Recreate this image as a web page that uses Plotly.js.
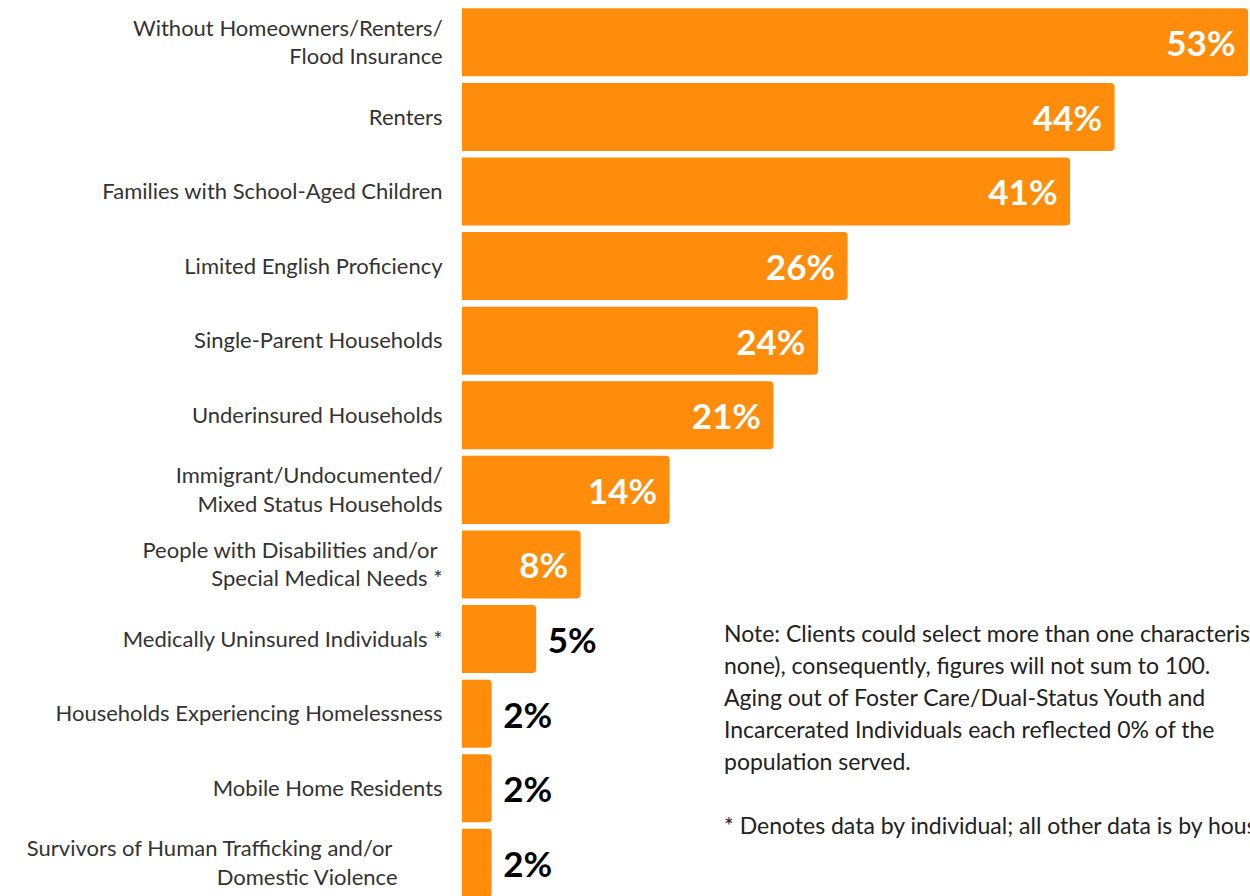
<!DOCTYPE html>
<html>
<head>
<meta charset="utf-8">
<script src="https://cdn.plot.ly/plotly-3.0.1.min.js"></script>
<style>html,body{margin:0;padding:0;background:#fff;overflow:hidden}#chart{width:1250px;height:896px}</style>
</head>
<body>
<div id="chart"></div>
<script>
const NB = '\u00A0';
const categories = [
  'Without Homeowners/Renters/<br>Flood Insurance',
  'Renters',
  'Families with School-Aged Children',
  'Limited English Proficiency',
  'Single-Parent Households',
  'Underinsured Households',
  'Immigrant/Undocumented/<br>Mixed Status Households',
  'People with Disabilities and/or' + NB + '<br>Special Medical Needs *',
  'Medically Uninsured Individuals *',
  'Households Experiencing Homelessness',
  'Mobile Home Residents',
  'Survivors of Human Trafficking and/or' + NB.repeat(9) + '<br>Domestic Violence' + NB.repeat(8)
];
const values = [53, 44, 41, 26, 24, 21, 14, 8, 5, 2, 2, 2];
const noteLines = [
  'Note: Clients could select more than one characteristic (or',
  'none), consequently, figures will not sum to 100.',
  'Aging out of Foster Care/Dual-Status Youth and',
  'Incarcerated Individuals each reflected 0% of the',
  'population served.',
  '',
  '* Denotes data by individual; all other data is by household.'
];

const inside = values.map(v => v >= 8);
const labels = values.map((v, i) => inside[i] ? v + '%' + NB : NB + v + '%');

const FONT = 'Lato, "Open Sans", sans-serif';
const H = 896, T = 5, PH = 891, L = 462, PW = 788;

const trace = {
  type: 'bar',
  orientation: 'h',
  x: values,
  y: categories,
  text: labels,
  texttemplate: '%{text}',
  textposition: inside.map(b => b ? 'inside' : 'outside'),
  insidetextanchor: 'end',
  insidetextfont: {color: '#ffffff', size: 35, family: FONT, weight: 'bold'},
  outsidetextfont: {color: '#000000', size: 35, family: FONT, weight: 'bold'},
  textfont: {size: 35, family: FONT, weight: 'bold'},
  constraintext: 'none',
  cliponaxis: false,
  marker: {color: '#FF8C0A', line: {width: 0}},
  hoverinfo: 'none'
};

const noteAnnotations = noteLines.map((line, i) => ({
  xref: 'paper', yref: 'paper',
  x: (722 - L) / PW,
  y: (H - (633 + 32 * i)) / PH,
  xanchor: 'left', yanchor: 'middle',
  align: 'left',
  showarrow: false,
  text: line || ' ',
  font: {family: FONT, size: 23, color: '#222222'}
}));

const layout = {
  width: 1250,
  height: H,
  margin: {l: L, r: 0, t: T, b: 0, pad: 0},
  paper_bgcolor: '#ffffff',
  plot_bgcolor: '#ffffff',
  showlegend: false,
  bargap: 0.088,
  barcornerradius: 4,
  font: {family: FONT, color: '#333333', size: 22},
  xaxis: {range: [0, 53.13], visible: false, fixedrange: true},
  yaxis: {
    type: 'category',
    range: [11.444, -0.5],
    showgrid: false,
    zeroline: false,
    showline: false,
    ticks: 'outside',
    ticklen: 14,
    tickcolor: 'rgba(0,0,0,0)',
    tickfont: {family: FONT, size: 22, color: '#333333'},
    automargin: false,
    fixedrange: true
  },
  annotations: noteAnnotations
};

Plotly.newPlot('chart', [trace], layout, {displayModeBar: false, staticPlot: true});
</script>
</body>
</html>
